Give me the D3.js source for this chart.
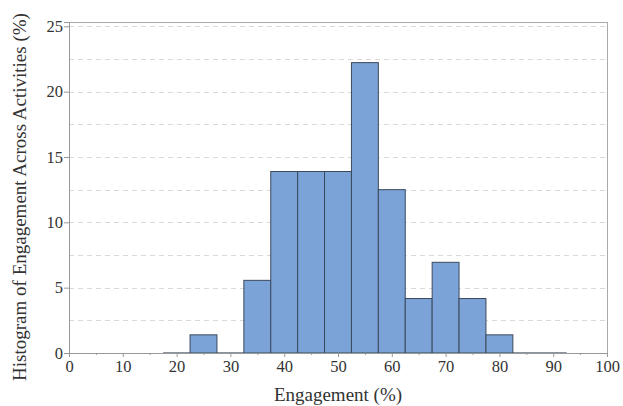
<!DOCTYPE html>
<html><head><meta charset="utf-8">
<script src="https://cdn.jsdelivr.net/npm/d3@7"></script>
<style>body{margin:0;background:#fff}svg{display:block}</style>
</head><body><svg id="c" width="623" height="406"></svg>
<script>
const binStarts = [17.5,22.5,27.5,32.5,37.5,42.5,47.5,52.5,57.5,62.5,67.5,72.5,77.5,82.5,87.5];
const binValues = [0,1.39,0,5.56,13.89,13.89,13.89,22.22,12.5,4.17,6.94,4.17,1.39,0,0];
const binWidth = 5;
const xTicks = [0,10,20,30,40,50,60,70,80,90,100];
const yTicks = [0,5,10,15,20,25];
const xTitle = "Engagement (%)";
const yTitle = "Histogram of Engagement Across Activities (%)";

const FONT = "'Liberation Serif','Times New Roman',Tinos,'DejaVu Serif',serif";
const svg = d3.select("#c");
const L=69,R=607,T=22,B=353;
const x = d3.scaleLinear().domain([0,100]).range([L,R]);
const y = d3.scaleLinear().domain([0,25.33]).range([B,T]);

// grid
const gridVals = d3.range(2.5,25.01,2.5);
svg.append("g").selectAll("line").data(gridVals).join("line")
  .attr("x1",L).attr("x2",R).attr("y1",d=>Math.round(y(d))+0.5).attr("y2",d=>Math.round(y(d))+0.5)
  .attr("stroke","#d9d9d9").attr("stroke-dasharray","5,4").attr("stroke-width",1);

// frame top/right
svg.append("line").attr("x1",L).attr("x2",R).attr("y1",T+0.5).attr("y2",T+0.5).attr("stroke","#aaa");
svg.append("line").attr("x1",R+0.5).attr("x2",R+0.5).attr("y1",T).attr("y2",B).attr("stroke","#aaa");

const bins = binStarts.map((s,i)=>({s,v:binValues[i]}));
// bars
svg.append("g").selectAll("rect").data(bins.filter(d=>d.v>0)).join("rect")
  .attr("x",d=>x(d.s)).attr("width",d=>x(d.s+binWidth)-x(d.s))
  .attr("y",d=>y(d.v)).attr("height",d=>y(0)-y(d.v))
  .attr("fill","#7ba3d8").attr("stroke","#3b4a5c").attr("stroke-width",1);
// zero-height bins drawn as baseline segments
svg.append("g").selectAll("line").data(bins.filter(d=>d.v===0)).join("line")
  .attr("x1",d=>x(d.s)).attr("x2",d=>x(d.s+binWidth)).attr("y1",y(0)).attr("y2",y(0))
  .attr("stroke","#3b4a5c").attr("stroke-width",1.2);

// axes
svg.append("g").attr("transform",`translate(0,${B})`)
  .call(d3.axisBottom(x).tickValues(xTicks).tickSize(4).tickPadding(3).tickFormat(d3.format("d")));
svg.append("g").attr("transform",`translate(0,${B})`)
  .call(d3.axisBottom(x).tickValues(d3.range(5,100,10)).tickSize(2).tickFormat(""))
  .call(g=>g.select(".domain").remove());
svg.append("g").attr("transform",`translate(${L},0)`)
  .call(d3.axisLeft(y).tickValues(yTicks).tickSize(5).tickPadding(1).tickFormat(d3.format("d")));
svg.selectAll(".domain").attr("stroke","#999");
svg.selectAll(".tick line").attr("stroke","#999");
svg.selectAll("g").attr("font-family",null);
svg.selectAll(".tick text").style("font-family",FONT).attr("font-size",16.5).attr("fill","#333");

svg.append("text").attr("x",338).attr("y",401).attr("text-anchor","middle")
  .style("font-family",FONT).attr("font-size",19).attr("fill","#333").text(xTitle);
svg.append("text").attr("transform",`translate(26,197) rotate(-90)`).attr("text-anchor","middle")
  .style("font-family",FONT).attr("font-size",19).attr("fill","#333").text(yTitle);
</script></body></html>
